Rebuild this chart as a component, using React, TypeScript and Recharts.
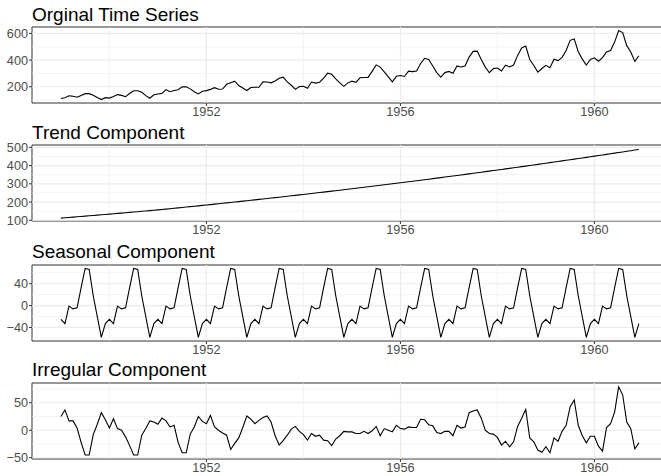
import { LineChart, Line, XAxis, YAxis, ReferenceLine, ReferenceArea } from "recharts"

// AirPassengers, monthly from Jan 1949
const startYear = 1949
const frequency = 12

const passengers = [
  112, 118, 132, 129, 121, 135, 148, 148, 136, 119, 104, 118,
  115, 126, 141, 135, 125, 149, 170, 170, 158, 133, 114, 140,
  145, 150, 178, 163, 172, 178, 199, 199, 184, 162, 146, 166,
  171, 180, 193, 181, 183, 218, 230, 242, 209, 191, 172, 194,
  196, 196, 236, 235, 229, 243, 264, 272, 237, 211, 180, 201,
  204, 188, 235, 227, 234, 264, 302, 293, 259, 229, 203, 229,
  242, 233, 267, 269, 270, 315, 364, 347, 312, 274, 237, 278,
  284, 277, 317, 313, 318, 374, 413, 405, 355, 306, 271, 306,
  315, 301, 356, 348, 355, 422, 465, 467, 404, 347, 305, 336,
  340, 318, 362, 348, 363, 435, 491, 505, 404, 359, 310, 337,
  360, 342, 406, 396, 420, 472, 548, 559, 463, 407, 362, 405,
  417, 391, 419, 461, 472, 535, 622, 606, 508, 461, 390, 432,
]

const trend = [
  112.0, 113.7, 115.6, 117.3, 119.1, 120.9, 122.7, 124.5, 126.4, 128.2, 130.0, 131.9,
  133.8, 135.6, 137.6, 139.4, 141.3, 143.3, 145.2, 147.1, 149.1, 151.0, 153.0, 155.0,
  157.0, 159.2, 161.4, 163.5, 165.8, 168.0, 170.2, 172.4, 174.7, 176.9, 179.2, 181.5,
  183.8, 186.0, 188.4, 190.7, 193.0, 195.3, 197.7, 200.0, 202.4, 204.8, 207.2, 209.6,
  212.0, 214.4, 216.9, 219.3, 221.8, 224.2, 226.7, 229.2, 231.7, 234.2, 236.7, 239.2,
  241.8, 244.3, 246.9, 249.4, 252.0, 254.6, 257.2, 259.8, 262.4, 265.0, 267.7, 270.3,
  273.0, 275.7, 278.4, 281.0, 283.8, 286.5, 289.2, 291.9, 294.7, 297.4, 300.2, 303.0,
  305.8, 308.5, 311.4, 314.2, 317.0, 319.8, 322.7, 325.5, 328.4, 331.3, 334.2, 337.1,
  340.0, 342.9, 345.9, 348.8, 351.8, 354.7, 357.7, 360.7, 363.7, 366.7, 369.7, 372.7,
  375.8, 378.8, 381.9, 384.9, 388.0, 391.1, 394.2, 397.3, 400.4, 403.5, 406.7, 409.8,
  413.0, 416.2, 419.4, 422.5, 425.8, 429.0, 432.2, 435.4, 438.7, 441.9, 445.2, 448.5,
  451.8, 455.0, 458.4, 461.7, 465.0, 468.3, 471.7, 475.0, 478.4, 481.8, 485.2, 488.6,
]

// one year of the seasonal figure, Jan..Dec (repeats every year)
const seasonalFigure = [-25, -33, -1, -6, -4, 33, 68, 66, 18, -20, -58, -33]

const irregular = [
  25, 37, 17, 17, 4, -22, -45, -45, -8, 11, 32, 19,
  4, 21, 3, 0, -12, -28, -45, -45, -9, 3, 17, 15,
  11, 22, 17, 6, 9, -22, -41, -41, -7, 6, 25, 16,
  12, 27, 6, 0, -5, -9, -35, -24, -14, 5, 26, 20,
  12, 18, 23, 26, 15, -10, -27, -19, -9, 2, 7, -2,
  -8, -18, -6, -11, -9, -18, -19, -28, -16, -10, -2, -3,
  -3, -6, -6, -2, -6, -1, 7, -10, 3, 0, -3, 9,
  3, 2, 6, 5, 5, 20, 19, 10, 8, -4, -6, -2,
  -2, -10, 9, 4, 6, 32, 35, 37, 22, 0, -6, -7,
  -13, -27, -20, -30, -21, 7, 22, 38, -14, -21, -36, -40,
  -30, -41, -14, -20, -2, 9, 43, 55, 9, -10, -23, -11,
  -11, -29, -38, 5, 12, 33, 79, 64, 15, 3, -34, -23,
]

const yearTicks = [1952, 1956, 1960]
const yearMinor = [1950, 1954, 1958]

const rows = passengers.map((v, i) => ({
  t: startYear + i / frequency,
  observed: v,
  trend: trend[i],
  seasonal: seasonalFigure[i % frequency],
  irregular: irregular[i],
}))

const panels = [
  { title: "Orginal Time Series", key: "observed", top: 27, domain: [78, 648], ticks: [200, 400, 600], minor: [100, 300, 500] },
  { title: "Trend Component", key: "trend", top: 145, domain: [96, 513], ticks: [100, 200, 300, 400, 500], minor: [150, 250, 350, 450] },
  { title: "Seasonal Component", key: "seasonal", top: 264.5, domain: [-64.8, 74.3], ticks: [-40, 0, 40], minor: [-60, -20, 20, 60] },
  { title: "Irregular Component", key: "irregular", top: 382.5, domain: [-52.3, 85.9], ticks: [-50, 0, 50], minor: [-25, 25, 75] },
]

const X_DOMAIN = [1948.404, 1961.513]
const CHART_W = 700
const PLOT_H = 76
const TOP_M = 27
const AXIS_H = 16
const GRID = "#EBEBEB"
const tickStyle = { fontSize: 12.7, fill: "#4D4D4D" }
const minusFmt = (v: number) => String(v).replace("-", "\u2212")

function Panel({ p }: { p: (typeof panels)[number] }) {
  return (
    <>
      <div
        style={{
          position: "absolute",
          left: 32,
          top: p.top - 22.4,
          fontSize: 19,
          lineHeight: "19px",
          color: "#000",
          whiteSpace: "nowrap",
        }}
      >
        {p.title}
      </div>
      <div style={{ position: "absolute", left: 0, top: p.top - TOP_M }}>
        <LineChart
          width={CHART_W}
          height={TOP_M + PLOT_H + AXIS_H}
          data={rows}
          margin={{ top: TOP_M, right: 32.2, bottom: 0, left: 0 }}
        >
          <XAxis
            dataKey="t"
            type="number"
            domain={X_DOMAIN}
            ticks={yearTicks}
            interval={0}
            allowDataOverflow
            axisLine={false}
            tickSize={3}
            tickMargin={1}
            tickLine={{ stroke: "#333333" }}
            tick={tickStyle}
            height={AXIS_H}
          />
          <YAxis
            type="number"
            domain={p.domain}
            ticks={p.ticks}
            interval={0}
            allowDataOverflow
            axisLine={false}
            tickSize={3}
            tickMargin={1}
            tickLine={{ stroke: "#333333" }}
            tick={tickStyle}
            tickFormatter={minusFmt}
            width={32}
          />
          {p.minor.map((v) => (
            <ReferenceLine key={"hm" + v} y={v} stroke={GRID} strokeWidth={0.6} />
          ))}
          {yearMinor.map((v) => (
            <ReferenceLine key={"vm" + v} x={v} stroke={GRID} strokeWidth={0.6} />
          ))}
          {p.ticks.map((v) => (
            <ReferenceLine key={"h" + v} y={v} stroke={GRID} strokeWidth={1.2} />
          ))}
          {yearTicks.map((v) => (
            <ReferenceLine key={"v" + v} x={v} stroke={GRID} strokeWidth={1.2} />
          ))}
          <ReferenceArea
            x1={X_DOMAIN[0]}
            x2={X_DOMAIN[1]}
            y1={p.domain[0]}
            y2={p.domain[1]}
            fill="none"
            stroke="#333333"
            strokeWidth={1}
            ifOverflow="visible"
          />
          <Line
            dataKey={p.key}
            type="linear"
            stroke="#000"
            strokeWidth={1.1}
            dot={false}
            isAnimationActive={false}
          />
        </LineChart>
      </div>
    </>
  )
}

export default function App() {
  return (
    <div
      style={{
        position: "absolute",
        left: 0,
        top: 0,
        width: 661,
        height: 476,
        overflow: "hidden",
        background: "#fff",
        fontFamily: "'Liberation Sans', Arial, sans-serif",
      }}
    >
      {panels.map((p) => (
        <Panel key={p.key} p={p} />
      ))}
    </div>
  )
}
